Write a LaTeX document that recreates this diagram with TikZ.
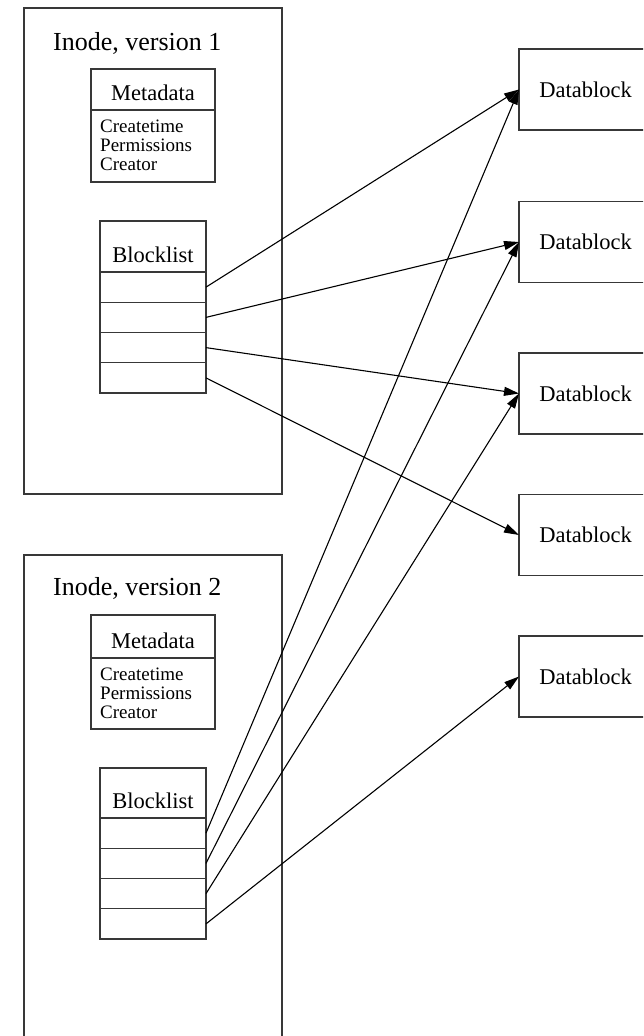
\documentclass[tikz,border=0pt]{standalone}
\usepackage{fontspec}
\setmainfont{Liberation Serif}
\usetikzlibrary{arrows.meta}
\begin{document}
\begin{tikzpicture}[x=1pt,y=-1pt,
  frame/.style={draw=black!78, line width=1.3pt, inner sep=0pt, outer sep=0pt, anchor=north west},
  dbbox/.style={frame, anchor=center, minimum width=133pt, minimum height=81pt, font=\fontsize{22.5pt}{26pt}\selectfont},
  rowbox/.style={frame, minimum width=106pt, minimum height=30.25pt},
  titletext/.style={anchor=base west, inner sep=0pt, font=\fontsize{26pt}{30pt}\selectfont},
  headtext/.style={anchor=base, inner sep=0pt, font=\fontsize{22.5pt}{26pt}\selectfont},
  smalltext/.style={anchor=base west, inner sep=0pt, font=\fontsize{19pt}{22pt}\selectfont},
  conn/.style={draw=black, line width=1.1pt, -{Triangle[length=15pt,width=9pt]}}]
\useasboundingbox (0,0) rectangle (643,1036);
\fill[white] (0,0) rectangle (643,1036);
\clip (0,0) rectangle (643,1036);

% Inode 1
\node[frame, minimum width=258pt, minimum height=486pt] (inode1) at (24,8) {};
\node[titletext] (title1) at (53,50) {Inode, version 1};
\node[frame, minimum width=124pt, minimum height=41pt] (meta1h) at (91,69) {};
\node[frame, minimum width=124pt, minimum height=72pt] (meta1b) at (91,110) {};
\node[headtext] (meta1t) at (153,100) {Metadata};
\node[smalltext] (m1a) at (100,132) {Createtime};
\node[smalltext] (m1b) at (100,151) {Permissions};
\node[smalltext] (m1c) at (100,170) {Creator};
\node[frame, minimum width=106pt, minimum height=51pt] (bl1h) at (100,221) {};
\node[headtext] (bl1t) at (153,262) {Blocklist};
\node[rowbox] (b1r1) at (100,272) {};
\node[rowbox] (b1r2) at (100,302.25) {};
\node[rowbox] (b1r3) at (100,332.5) {};
\node[rowbox] (b1r4) at (100,362.75) {};

% Inode 2
\node[frame, minimum width=258pt, minimum height=500pt] (inode2) at (24,555) {};
\node[titletext] (title2) at (53,595) {Inode, version 2};
\node[frame, minimum width=124pt, minimum height=43pt] (meta2h) at (91,615) {};
\node[frame, minimum width=124pt, minimum height=71pt] (meta2b) at (91,658) {};
\node[headtext] (meta2t) at (153,648) {Metadata};
\node[smalltext] (m2a) at (100,680) {Createtime};
\node[smalltext] (m2b) at (100,699) {Permissions};
\node[smalltext] (m2c) at (100,718) {Creator};
\node[frame, minimum width=106pt, minimum height=50pt] (bl2h) at (100,768) {};
\node[headtext] (bl2t) at (153,808) {Blocklist};
\node[rowbox] (b2r1) at (100,818) {};
\node[rowbox] (b2r2) at (100,848.25) {};
\node[rowbox] (b2r3) at (100,878.5) {};
\node[rowbox] (b2r4) at (100,908.75) {};

% Datablocks
\node[dbbox] (db1) at (585.5,89.5) {Datablock};
\node[dbbox] (db2) at (585.5,242) {Datablock};
\node[dbbox] (db3) at (585.5,393.5) {Datablock};
\node[dbbox] (db4) at (585.5,535) {Datablock};
\node[dbbox] (db5) at (585.5,676.5) {Datablock};

% Connectors
\draw[conn] (b1r1.east) -- (db1.west);
\draw[conn] (b1r2.east) -- (db2.west);
\draw[conn] (b1r3.east) -- (db3.west);
\draw[conn] (b1r4.east) -- (db4.west);
\draw[conn] (b2r1.east) -- (db1.west);
\draw[conn] (b2r2.east) -- (db2.west);
\draw[conn] (b2r3.east) -- (db3.west);
\draw[conn] (b2r4.east) -- (db5.west);
\end{tikzpicture}
\end{document}
